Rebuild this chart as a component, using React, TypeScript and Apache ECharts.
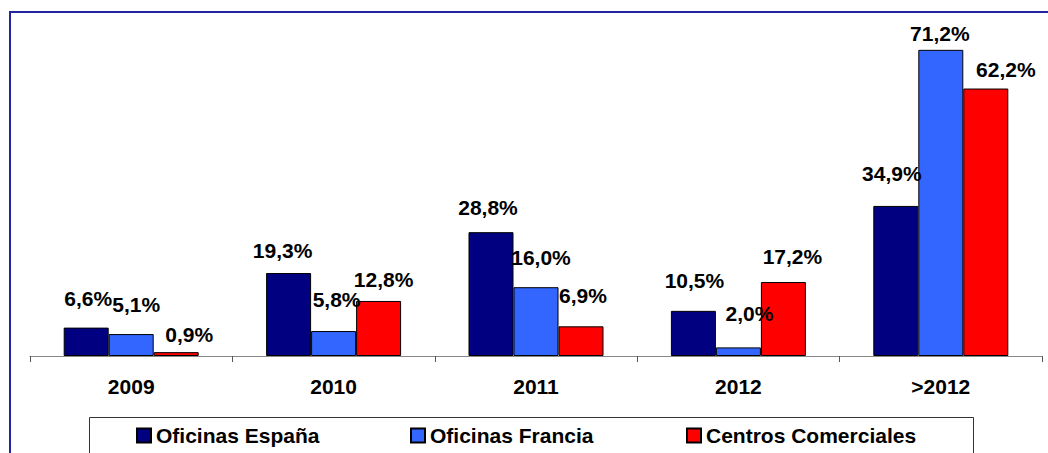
import React, { useEffect, useRef } from "react";
import * as echarts from "echarts";

const categories = ["2009", "2010", "2011", "2012", ">2012"];
const seriesNames = ["Oficinas España", "Oficinas Francia", "Centros Comerciales"];
const oficinasEspana = [6.6, 19.3, 28.8, 10.5, 34.9];
const oficinasFrancia = [5.1, 5.8, 16.0, 2.0, 71.2];
const centrosComerciales = [0.9, 12.8, 6.9, 17.2, 62.2];

// label nudges (styling only): [dx, dy] per point
const labelNudgeEspana = [[2, -19], [-6, -12.5], [-3, -14.5], [1, -19.5], [-4, -22]];
const labelNudgeFrancia = [[5, -19], [3, -21.5], [5, -19.5], [11, -23.5], [-1, -5.5]];
const labelNudgeCentros = [[13, -7.5], [5, -10.5], [2, -20.5], [9, -15.5], [20, -8.5]];

const colors = ["#000080", "#3366FF", "#FF0000"];
const FONT = "'Liberation Sans', Arial, sans-serif";

const fmt = (v: number) => v.toFixed(1).replace(".", ",") + "%";

function buildSeries(name: string, values: number[], nudges: number[][], color: string) {
  return {
    name,
    type: "bar",
    barWidth: 45,
    barGap: "0%",
    itemStyle: { color, borderColor: "#000", borderWidth: 1 },
    data: values.map((v, i) => ({
      value: v,
      label: { offset: nudges[i] },
    })),
    label: {
      show: true,
      position: "top",
      distance: 0,
      formatter: (p: any) => fmt(p.value),
      fontFamily: FONT,
      fontSize: 21,
      fontWeight: "bold",
      color: "#000",
    },
  };
}

export default function App() {
  const ref = useRef<HTMLDivElement>(null);
  useEffect(() => {
    if (!ref.current) return;
    const chart = echarts.init(ref.current, null, { renderer: "svg" });
    const legendBase = {
      top: 425,
      padding: 0,
      itemWidth: 14,
      itemHeight: 14,
      icon: "rect",
      textStyle: { fontFamily: FONT, fontSize: 21, fontWeight: "bold", color: "#000" },
    };
    chart.setOption({
      animation: false,
      backgroundColor: "#fff",
      grid: { left: 30, right: 6, top: 12, bottom: 97, containLabel: false },
      xAxis: {
        type: "category",
        data: categories,
        axisLine: { lineStyle: { color: "#888", width: 1 } },
        axisTick: { show: true, length: 6, lineStyle: { color: "#555" } },
        axisLabel: {
          margin: 20,
          fontFamily: FONT,
          fontSize: 21,
          fontWeight: "bold",
          color: "#000",
        },
      },
      yAxis: {
        type: "value",
        min: 0,
        max: 80,
        show: false,
        splitLine: { show: false },
      },
      legend: [
        { ...legendBase, left: 136, data: [seriesNames[0]] },
        { ...legendBase, left: 410, data: [seriesNames[1]] },
        { ...legendBase, left: 686, data: [seriesNames[2]] },
      ],
      graphic: [
        {
          type: "rect",
          shape: { x: 10, y: 12, width: 1100, height: 600 },
          style: { fill: "none", stroke: "#2424a0", lineWidth: 2 },
          silent: true,
          z: 100,
        },
        {
          type: "rect",
          shape: { x: 89.5, y: 417.5, width: 884, height: 60 },
          style: { fill: "none", stroke: "#333", lineWidth: 1 },
          silent: true,
          z: 100,
        },
      ],
      series: [
        buildSeries(seriesNames[0], oficinasEspana, labelNudgeEspana, colors[0]),
        buildSeries(seriesNames[1], oficinasFrancia, labelNudgeFrancia, colors[1]),
        buildSeries(seriesNames[2], centrosComerciales, labelNudgeCentros, colors[2]),
      ],
    });
    return () => chart.dispose();
  }, []);
  return (
    <div
      ref={ref}
      style={{ position: "fixed", left: 0, top: 0, width: 1048, height: 453, background: "#fff" }}
    />
  );
}
